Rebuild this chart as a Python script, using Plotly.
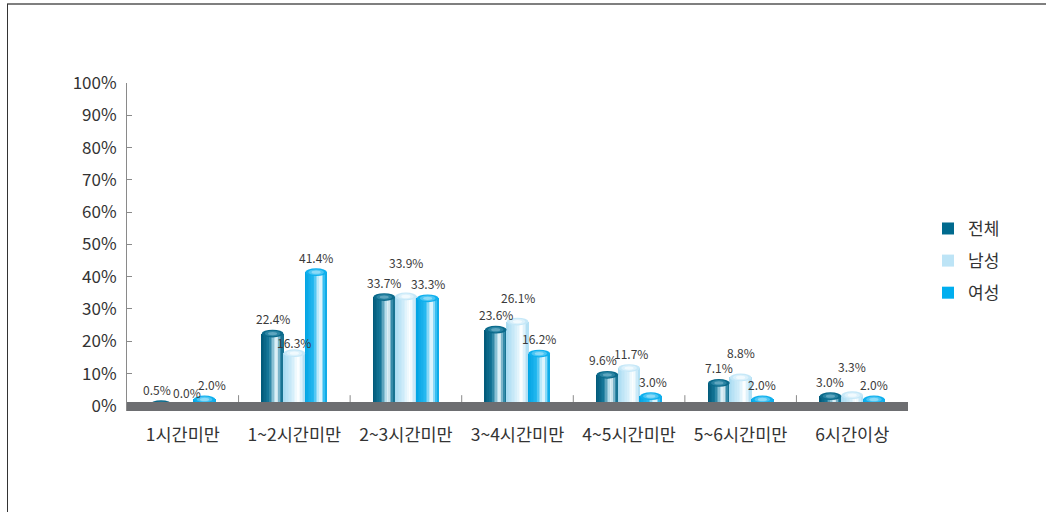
import plotly.graph_objects as go

# ---- data -------------------------------------------------------------
categories = ["1시간미만", "1~2시간미만", "2~3시간미만", "3~4시간미만",
              "4~5시간미만", "5~6시간미만", "6시간이상"]
series_names = ["전체", "남성", "여성"]
total = [0.5, 22.4, 33.7, 23.6, 9.6, 7.1, 3.0]
male = [0.0, 16.3, 33.9, 26.1, 11.7, 8.8, 3.3]
female = [2.0, 41.4, 33.3, 16.2, 3.0, 2.0, 2.0]
y_ticks = [0, 10, 20, 30, 40, 50, 60, 70, 80, 90, 100]
y_tick_labels = [f"{t}%" for t in y_ticks]

# ---- style ------------------------------------------------------------
FONT = "Noto Sans CJK KR"
legend_colors = ["#006a8e", "#bde4f6", "#00aeef"]
# horizontal shading of each cylinder, left edge -> right edge
shading = [
    [(0.0, "#005878"), (0.35, "#16789a"), (0.62, "#bfe2ee"), (0.72, "#eef8fb"),
     (0.88, "#3a8fad"), (1.0, "#0a6787")],
    [(0.0, "#a6daf1"), (0.45, "#d3eefa"), (0.7, "#ffffff"), (0.88, "#d0ecf9"),
     (1.0, "#a8dbf2")],
    [(0.0, "#00a3e3"), (0.4, "#25b8f0"), (0.64, "#d3f1fc"), (0.74, "#e8f8fe"),
     (0.9, "#2ebcf1"), (1.0, "#00a2e1")],
]
# cap colours from rim to centre
cap_rings = [
    ["#0b6a8b", "#2a84a3", "#5fa6bf"],
    ["#c6e8f8", "#dcf1fb", "#f1fafe"],
    ["#0fb0ee", "#4cc5f3", "#8bdaf7"],
]
# value-label placement (pixels)
label_lift = [[15] * 7, [13, 11, 34, 24, 15, 25, 29], [15] * 7]
label_nudge = [[-4, 0, 0, 0, -4, 0, 0], [4, 0, 0, 0, 2, 0, 0], [7, 0, 0, 0, 2, 0, 0]]

BAR_W = 0.195          # width of one cylinder in category units
N_STRIPS = 14
CAP_H = 1.2            # half height of the cylinder cap in axis units
Y_MIN, Y_MAX = -1.6, 100

# plot area in pixels
W, H = 1046, 512
M_L, M_R, M_T = 127, 138, 83
PX_PER_UNIT = 3.23
plot_h = (Y_MAX - Y_MIN) * PX_PER_UNIT
M_B = H - M_T - plot_h
plot_w = W - M_L - M_R


def hex_to_rgb(h):
    h = h.lstrip("#")
    return tuple(int(h[i:i + 2], 16) for i in (0, 2, 4))


def shade_at(stops, t):
    for (p0, c0), (p1, c1) in zip(stops, stops[1:]):
        if p0 <= t <= p1:
            f = (t - p0) / (p1 - p0) if p1 > p0 else 0
            a, b = hex_to_rgb(c0), hex_to_rgb(c1)
            return "rgb({},{},{})".format(*[round(a[i] + (b[i] - a[i]) * f) for i in range(3)])
    return stops[-1][1]


values = [total, male, female]
xs = list(range(len(categories)))
series_offset = [-BAR_W, 0.0, BAR_W]

fig = go.Figure()

# cylinder bodies built from thin vertical strips
for s, vals in enumerate(values):
    strip_w = BAR_W / N_STRIPS
    for k in range(N_STRIPS):
        t = (k + 0.5) / N_STRIPS
        fig.add_trace(go.Bar(
            x=xs, y=vals,
            offset=series_offset[s] - BAR_W / 2 + k * strip_w,
            width=strip_w * 1.15,
            marker=dict(color=shade_at(shading[s], t), line=dict(width=0)),
            showlegend=False, hoverinfo="skip",
        ))

# legend entries
for s, name in enumerate(series_names):
    fig.add_trace(go.Bar(
        x=[None], y=[None], name=name, legendgroup=name,
        marker=dict(color=legend_colors[s], line=dict(width=0)),
    ))

shapes = []
annotations = []
ring_scale = [1.0, 0.72, 0.42]
for s, vals in enumerate(values):
    for i, v in enumerate(vals):
        c = i + series_offset[s]
        if v > 0:
            for r, col in zip(ring_scale, cap_rings[s]):
                shapes.append(dict(type="circle", xref="x", yref="y", layer="above",
                                   x0=c - BAR_W / 2 * r, x1=c + BAR_W / 2 * r,
                                   y0=v - CAP_H * r, y1=v + CAP_H * r,
                                   fillcolor=col, line=dict(width=0)))
        annotations.append(dict(
            x=c, y=v, xref="x", yref="y", text=f"{v:.1f}%", showarrow=False,
            yshift=label_lift[s][i], xshift=label_nudge[s][i], yanchor="middle",
            font=dict(family=FONT, size=12, color="#3a3a3a"),
        ))

# separators between category groups
for i in range(len(categories) - 1):
    shapes.append(dict(type="line", xref="x", yref="y", layer="above",
                       x0=i + 0.5, x1=i + 0.5, y0=0, y1=3.3,
                       line=dict(color="#8a8a8a", width=1)))

# floor slab
shapes.append(dict(type="rect", xref="x domain", yref="y", layer="above",
                   x0=0, x1=1, y0=Y_MIN, y1=1.2,
                   fillcolor="#6d6e71", line=dict(width=0)))

# outer frame (top and left edges)
px_x = lambda p: (p - M_L) / plot_w
px_y = lambda p: (H - M_B - p) / plot_h
shapes.append(dict(type="line", xref="paper", yref="paper", layer="above",
                   x0=px_x(7), x1=px_x(W + 5), y0=px_y(4), y1=px_y(4),
                   line=dict(color="#555555", width=1.5)))
shapes.append(dict(type="line", xref="paper", yref="paper", layer="above",
                   x0=px_x(7.5), x1=px_x(7.5), y0=px_y(4), y1=px_y(H + 5),
                   line=dict(color="#333333", width=1)))

fig.update_layout(
    width=W, height=H,
    margin=dict(l=M_L, r=M_R, t=M_T, b=M_B, pad=0),
    paper_bgcolor="white", plot_bgcolor="white",
    barmode="overlay", bargap=0,
    font=dict(family=FONT, color="#333333"),
    shapes=shapes, annotations=annotations,
    showlegend=True,
    legend=dict(x=px_x(928), xanchor="left", y=px_y(211), yanchor="top",
                font=dict(family=FONT, size=17, color="#333333"),
                tracegroupgap=7, bgcolor="rgba(0,0,0,0)"),
    xaxis=dict(range=[-0.5, len(categories) - 0.5], tickvals=xs, ticktext=categories,
               showgrid=False, zeroline=False, showline=False, ticks="",
               ticklabelstandoff=11,
               tickfont=dict(family=FONT, size=17.5, color="#333333")),
    yaxis=dict(range=[Y_MIN, Y_MAX], tickvals=y_ticks, ticktext=y_tick_labels,
               showgrid=False, zeroline=False, showline=True,
               linecolor="#8a8a8a", linewidth=1,
               ticks="inside", ticklen=5, tickcolor="#8a8a8a",
               ticklabelstandoff=6,
               tickfont=dict(family=FONT, size=17, color="#333333")),
)

fig.write_html("out.html")
